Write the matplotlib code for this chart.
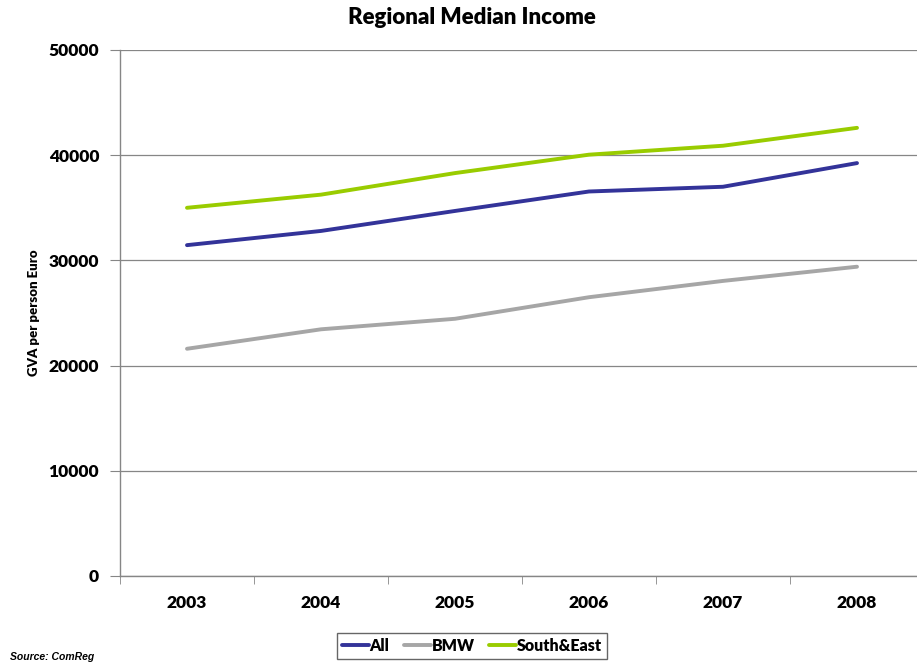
import matplotlib.pyplot as plt
import numpy as np

years = ['2003', '2004', '2005', '2006', '2007', '2008']
gva_all = [31450, 32800, 34700, 36550, 37000, 39250]
gva_bmw = [21600, 23450, 24450, 26500, 28050, 29400]
gva_south_east = [35000, 36250, 38300, 40050, 40900, 42600]

series = [
    ('All', gva_all, '#333399'),
    ('BMW', gva_bmw, '#a6a6a6'),
    ('South&East', gva_south_east, '#99cc00'),
]

plt.rcParams['font.family'] = ['Lato', 'DejaVu Sans']

fig = plt.figure(figsize=(9.17, 6.65), dpi=100)
ax = fig.add_axes([120 / 917, 1 - 576 / 665, 804 / 917, 526 / 665])

x = np.arange(len(years))
for name, values, colour in series:
    ax.plot(x, values, color=colour, linewidth=2.8, label=name, solid_capstyle='round')

ax.set_xlim(-0.5, len(years) - 0.5)
ax.set_ylim(0, 50000)
ax.set_yticks(np.arange(0, 50001, 10000))
ax.set_yticklabels([str(v) for v in range(0, 50001, 10000)], fontsize=12.5, fontweight='heavy')

# category labels centred, tick marks on the boundaries
ax.set_xticks(x)
ax.set_xticklabels(years, fontsize=12.5, fontweight='heavy')
ax.tick_params(axis='x', which='major', length=0, pad=14)
ax.set_xticks(np.arange(-0.5, len(years)), minor=True)
ax.tick_params(axis='x', which='minor', length=6, color='#868686', direction='out')
ax.tick_params(axis='y', length=7, color='#868686', pad=8)

ax.grid(axis='y', color='#868686', linewidth=0.9)
ax.set_axisbelow(True)
for side in ['top', 'right']:
    ax.spines[side].set_visible(False)
for side in ['left', 'bottom']:
    ax.spines[side].set_color('#868686')
    ax.spines[side].set_linewidth(1.0)

ax.set_ylabel('GVA per person Euro', fontsize=9.5, fontweight='heavy', labelpad=6)
fig.text(472 / 917, 1 - 17 / 665, 'Regional Median Income', ha='center', va='center',
         fontsize=16, fontweight='heavy')

leg = fig.legend(loc='center', bbox_to_anchor=(472 / 917, 1 - 646 / 665), ncol=3,
                 frameon=True, fancybox=False, handlelength=1.7, handletextpad=0.05,
                 columnspacing=0.9, borderpad=0.3, prop={'size': 11.5, 'weight': 'heavy'})
leg.get_frame().set_edgecolor('#404040')
leg.get_frame().set_linewidth(1.0)

fig.text(10 / 917, 1 - 657 / 665, 'Source: ComReg', ha='left', va='center', fontsize=7.5,
         fontweight='bold', style='italic', family='Liberation Sans')

fig.savefig('out.png', dpi=100)
